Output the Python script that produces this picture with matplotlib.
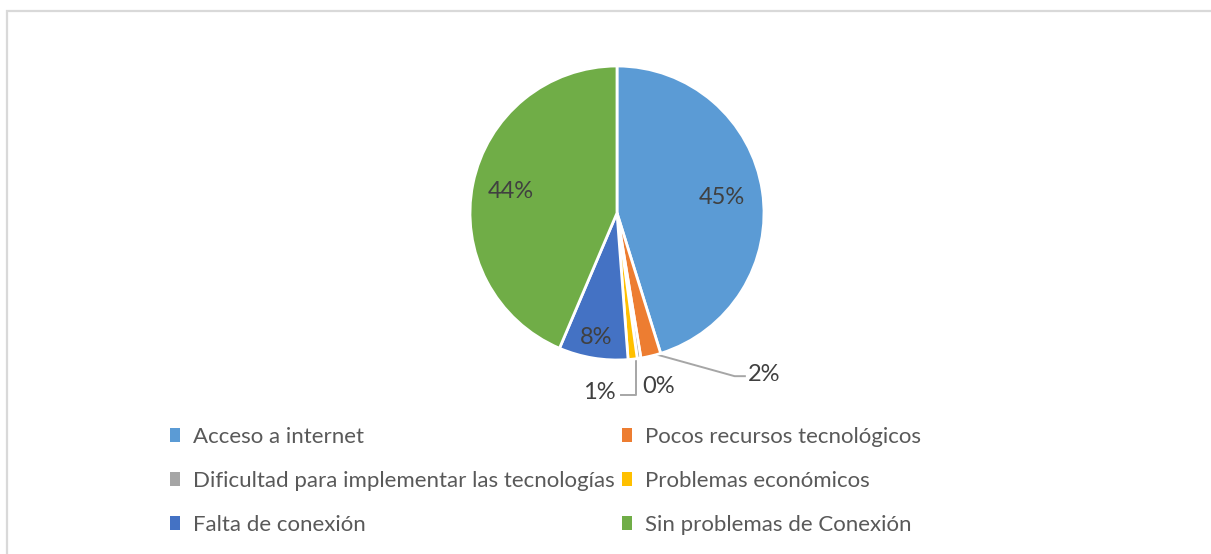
import numpy as np
import matplotlib.pyplot as plt
from matplotlib.patches import Rectangle

plt.rcParams['font.family'] = ['Lato', 'DejaVu Sans']

categories = ['Acceso a internet', 'Pocos recursos tecnológicos',
              'Dificultad para implementar las tecnologías', 'Problemas económicos',
              'Falta de conexión', 'Sin problemas de Conexión']
values = [45.2, 2.2, 0.4, 1.0, 7.6, 43.6]
colors = ['#5B9BD5', '#ED7D31', '#A5A5A5', '#FFC000', '#4472C4', '#70AD47']

W, H = 1211, 554
fig = plt.figure(figsize=(W / 100, H / 100), dpi=100)

# light frame like the Excel chart area
fig.patches.append(Rectangle((7 / W, -0.05), 1.1, (H - 11) / H + 0.05, transform=fig.transFigure,
                             fill=False, edgecolor='#d9d9d9', linewidth=1.6))

cx, cy, r = 617, 213, 147
ax = fig.add_axes([(cx - r) / W, (H - cy - r) / H, 2 * r / W, 2 * r / H])
wedges, _ = ax.pie(values, colors=colors, startangle=90, counterclock=False,
                   wedgeprops=dict(edgecolor='white', linewidth=2))
ax.set_xlim(-1, 1)
ax.set_ylim(-1, 1)
ax.set_aspect('auto')

total = sum(values)
txt_color = '#404040'
# inside labels: radius factor; outside labels: text position + leader path
inside = {0: 0.72, 4: 0.86, 5: 0.74}
outside = {1: ((1.0, -1.10), [(0.26, -0.96), (0.8, -1.11), (0.87, -1.11)]),
           2: ((0.28, -1.18), None),
           3: ((-0.12, -1.22), [(0.13, -0.99), (0.13, -1.24), (0.03, -1.24)])}

for i, w in enumerate(wedges):
    pct = '%d%%' % round(values[i] / total * 100)
    mid = np.deg2rad((w.theta1 + w.theta2) / 2)
    if i in inside:
        k = inside[i]
        ax.text(k * np.cos(mid), k * np.sin(mid), pct, ha='center', va='center',
                fontsize=17, color=txt_color)
    else:
        pos, path = outside[i]
        ax.text(pos[0], pos[1], pct, ha='center', va='center', fontsize=17,
                color=txt_color, clip_on=False)
        if path:
            xs, ys = zip(*path)
            ax.plot(xs, ys, color='#a6a6a6', lw=1.4, clip_on=False, zorder=0)

handles = [Rectangle((0, 0), 1, 1, facecolor=c, edgecolor='none') for c in colors]
# legend fills column-wise, reorder so entries read row by row
order = [0, 2, 4, 1, 3, 5]
fig.legend([handles[i] for i in order], [categories[i] for i in order], ncol=2, loc='upper left',
           bbox_to_anchor=(170 / W, 1 - 427 / H),
           frameon=False, fontsize=16, labelcolor='#595959', handlelength=0.45,
           handleheight=0.62, handletextpad=0.6, columnspacing=0.3, labelspacing=1.07,
           borderaxespad=0, borderpad=0)

fig.savefig('out.png', dpi=100, facecolor='white')
